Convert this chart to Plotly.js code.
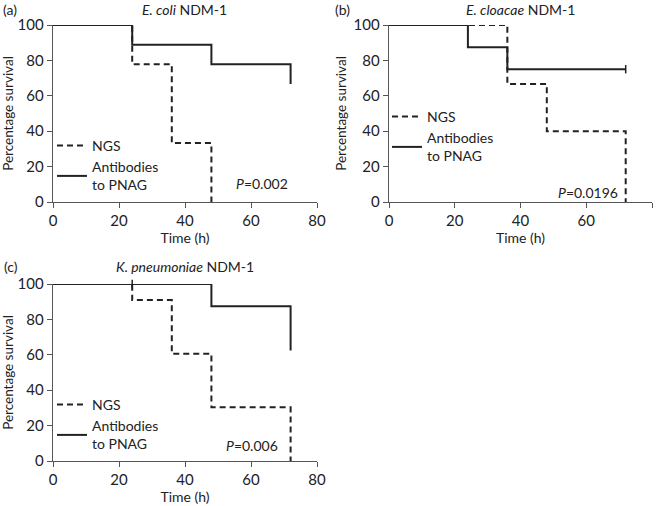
<!DOCTYPE html>
<html><head><meta charset="utf-8">
<script src="https://cdn.plot.ly/plotly-3.0.1.min.js"></script>
<style>html,body{margin:0;padding:0;background:#fff}</style>
</head><body><div id="chart" style="width:660px;height:506px"></div>
<script>
// Panel (a) E. coli NDM-1
const aNgsX = [0, 24, 36, 48];
const aNgsY = [100, 77.8, 33.3, 0];
const aAbX = [0, 24, 48, 72];
const aAbY = [100, 88.9, 77.8, 66.7];
// Panel (b) E. cloacae NDM-1
const bNgsX = [0, 36, 48, 72];
const bNgsY = [100, 66.7, 40, 0];
const bAbX = [0, 24, 36, 72];
const bAbY = [100, 87.5, 75, 75];
const bCensX = [72];
const bCensY = [75];
// Panel (c) K. pneumoniae NDM-1
const cNgsX = [0, 24, 36, 48, 72];
const cNgsY = [100, 90.9, 60.6, 30.3, 0];
const cAbX = [0, 48, 72];
const cAbY = [100, 87.5, 62.5];
const cCensX = [24];
const cCensY = [100];

const seriesNames = ['NGS', 'Antibodies<br>to PNAG'];
const titles = ['<i>E. coli</i> NDM-1', '<i>E. cloacae</i> NDM-1', '<i>K. pneumoniae</i> NDM-1'];
const panelLabels = ['(a)', '(b)', '(c)'];
const pValues = ['<i>P</i>=0.002', '<i>P</i>=0.0196', '<i>P</i>=0.006'];
const xTicks = [0, 20, 40, 60, 80];
const yTicks = [0, 20, 40, 60, 80, 100];

const ink = '#222222';
const font = 'Lato, Open Sans, sans-serif';

function step(x, y, name, dash, ax, leg) {
  return {x: x, y: y, name: name, mode: 'lines', type: 'scatter',
    line: {shape: 'hv', color: ink, width: 2, dash: dash},
    xaxis: 'x' + ax, yaxis: 'y' + ax, legend: leg, hoverinfo: 'skip'};
}
function cens(x, y, ax) {
  return {x: x, y: y, mode: 'markers', type: 'scatter', showlegend: false,
    marker: {symbol: 'line-ns', size: 6, line: {color: ink, width: 1.5}},
    xaxis: 'x' + ax, yaxis: 'y' + ax, hoverinfo: 'skip', cliponaxis: false};
}
const dash = '6px,4px';
const data = [
  step(aNgsX, aNgsY, seriesNames[0], dash, '', 'legend'),
  step(aAbX, aAbY, seriesNames[1], 'solid', '', 'legend'),
  step(bNgsX, bNgsY, seriesNames[0], dash, '2', 'legend2'),
  step(bAbX, bAbY, seriesNames[1], 'solid', '2', 'legend2'),
  cens(bCensX, bCensY, '2'),
  step(cNgsX, cNgsY, seriesNames[0], dash, '3', 'legend3'),
  step(cAbX, cAbY, seriesNames[1], 'solid', '3', 'legend3'),
  cens(cCensX, cCensY, '3')
];

function xa(dom, anchor) {
  return {domain: dom, anchor: anchor, range: [0, 80], tickvals: xTicks, ticks: 'outside', ticklen: 5,
    tickcolor: '#555', showline: true, linecolor: '#555', linewidth: 1.3, showgrid: false, zeroline: false,
    tickfont: {size: 15, color: ink, family: font},
    title: {text: 'Time (h)', font: {size: 14, color: ink, family: font}, standoff: 4}};
}
function ya(dom, anchor) {
  return {domain: dom, anchor: anchor, range: [0, 100], tickvals: yTicks, ticks: 'outside', ticklen: 5,
    tickcolor: '#555', showline: true, linecolor: '#555', linewidth: 1.3, showgrid: false, zeroline: false,
    tickfont: {size: 15, color: ink, family: font},
    title: {text: 'Percentage survival', font: {size: 13.5, color: ink, family: font}, standoff: 4}};
}
const W = 660, H = 506;
const dA = [53 / W, 317 / W], dB = [389 / W, 652 / W];
const yTop = [1 - 202 / H, 1 - 25 / H], yBot = [1 - 461 / H, 1 - 284 / H];

function leg(x, y) {
  return {x: x, y: y, xanchor: 'left', yanchor: 'top', bgcolor: 'rgba(0,0,0,0)',
    font: {size: 14, color: ink, family: font}, itemwidth: 30, tracegroupgap: 0};
}

const ann = [];
const centers = [[185, 9], [520, 9], [185, 266]];
const lblPos = [[1, 9], [333, 9], [2, 266]];
const pPos = [[290, 183], [620, 192], [280, 445]];
for (let i = 0; i < 3; i++) {
  ann.push({xref: 'paper', yref: 'paper', x: centers[i][0] / W, y: 1 - centers[i][1] / H, text: titles[i],
    showarrow: false, xanchor: 'center', yanchor: 'middle', font: {size: 14, color: ink, family: font}});
  ann.push({xref: 'paper', yref: 'paper', x: lblPos[i][0] / W, y: 1 - lblPos[i][1] / H, text: panelLabels[i],
    showarrow: false, xanchor: 'left', yanchor: 'middle', font: {size: 14, color: ink, family: font}});
  ann.push({xref: 'paper', yref: 'paper', x: pPos[i][0] / W, y: 1 - pPos[i][1] / H, text: pValues[i],
    showarrow: false, xanchor: 'right', yanchor: 'middle', font: {size: 14, color: ink, family: font}});
}

const layout = {
  width: W, height: H, margin: {l: 0, r: 0, t: 0, b: 0}, paper_bgcolor: '#fff', plot_bgcolor: '#fff',
  showlegend: true,
  xaxis: xa(dA, 'y'), yaxis: ya(yTop, 'x'),
  xaxis2: xa(dB, 'y2'), yaxis2: ya(yTop, 'x2'),
  xaxis3: xa(dA, 'y3'), yaxis3: ya(yBot, 'x3'),
  legend: leg(52 / W, 1 - 130 / H),
  legend2: leg(387 / W, 1 - 101 / H),
  legend3: leg(52 / W, 1 - 389 / H),
  annotations: ann
};
Plotly.newPlot('chart', data, layout, {displayModeBar: false, staticPlot: true});
</script></body></html>
